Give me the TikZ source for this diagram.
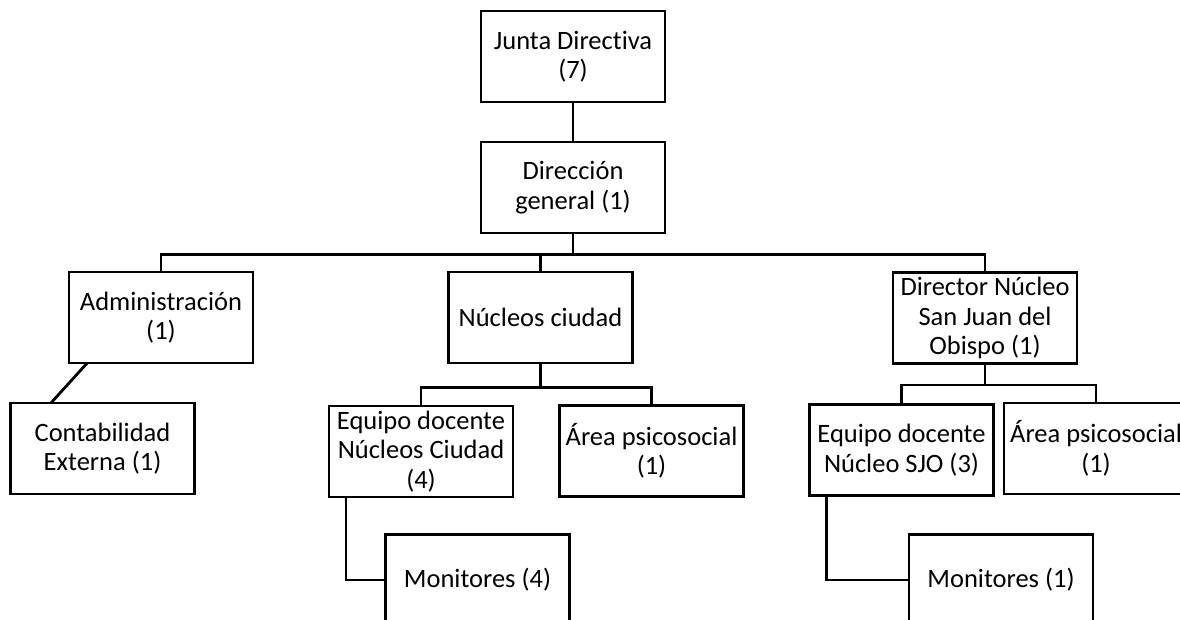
\documentclass[tikz,border=0pt]{standalone}
\usepackage{fontspec}
\setmainfont{Carlito}[Ligatures=CommonOff]
\usepackage{tikz}
\usetikzlibrary{shapes.geometric, arrows}
\tikzstyle{unit} = [rectangle, minimum width=184pt, minimum height=91pt, align=center, draw=black, line width=2.8pt, inner sep=1pt, font=\fontsize{26.5}{29.5}\selectfont]
\tikzstyle{link} = [line width=2.8pt, line cap=rect]

\begin{document}
\begin{tikzpicture}[x=1pt, y=-1pt]
	
	\useasboundingbox (0,0) rectangle (1180,619);
	
	\node (p1) [unit] at (573,56.5) {Junta Directiva\\(7)};
	\node (p2) [unit] at (573,187.5) {Dirección\\general (1)};
	
	\draw [link] (p1) -- (p2);
	
	\node (p3) [unit] at (161,317.5) {Administración\\(1)};
	\node (p4) [unit] at (540.5,317.5) {Núcleos ciudad};
	\node (p5) [unit] at (985,318) {Director Núcleo\\San Juan del\\Obispo (1)};
	
	\draw [link] (p2.south) -- ++(0,20) -| (p3);
	\draw [link] (p2.south) -- ++(0,20) -| (p4);
	\draw [link] (p2.south) -- ++(0,20) -| (p5);
	
	\node (p6) [unit] at (102.5,448.5) {Contabilidad\\Externa (1)};
	
	\draw [link] (p3.212) -- (p6.137);
	
	\node (p7) [unit] at (421,451.5) {Equipo docente\\Núcleos Ciudad\\(4)};
	\node (p8) [unit] at (651.5,451) {Área psicosocial\\(1)};
	
	\draw [link] (p4.south) -- ++(0,23) -| (p7);
	\draw [link] (p4.south) -- ++(0,23) -| (p8);
	
	\node (p9) [unit] at (901.5,450) {Equipo docente\\Núcleo SJO (3)};
	\node (p10) [unit] at (1096,448.5) {Área psicosocial\\(1)};
	
	\draw [link] (p5.south) -- ++(0,20) -| (p9);
	\draw [link] (p5.south) -- ++(0,20) -| (p10);
	
	\node (p11) [unit] at (477.5,580) {Monitores (4)};
	\node (p12) [unit] at (1001,580) {Monitores (1)};
	
	\draw [link] (p7.212) |- (p11);
	\draw [link] (p9.212) |- (p12);
	
\end{tikzpicture}
\end{document}
